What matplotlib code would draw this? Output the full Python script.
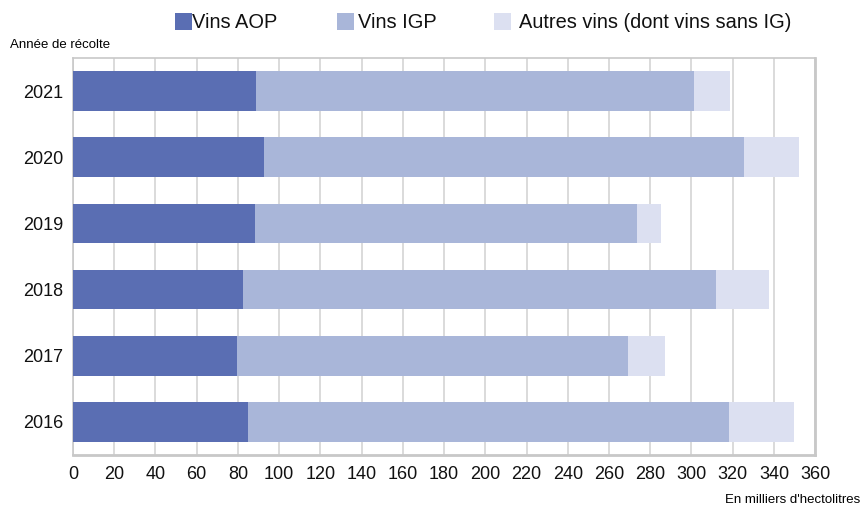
import matplotlib.pyplot as plt
from matplotlib.patches import Rectangle

years = ["2016", "2017", "2018", "2019", "2020", "2021"]
aop = [84.7, 79.7, 82.6, 88.4, 92.8, 88.9]
igp = [233.6, 189.3, 229.4, 185.0, 232.8, 212.4]
autres = [31.6, 18.2, 25.5, 11.8, 26.5, 17.5]

labels = ["Vins AOP", "Vins IGP", "Autres vins (dont vins sans IG)"]
colors = ["#5a6eb3", "#a9b6d9", "#dce0f1"]

plt.rcParams["font.family"] = ["Liberation Sans", "DejaVu Sans"]

W, H = 867, 509
fig = plt.figure(figsize=(W / 100, H / 100), dpi=100)
ax = fig.add_axes([0.0842, 0.106, 0.856, 0.780])

pos = range(len(years))
left3 = [a + b for a, b in zip(aop, igp)]
ax.barh(pos, aop, height=0.6, color=colors[0], zorder=3)
ax.barh(pos, igp, left=aop, height=0.6, color=colors[1], zorder=3)
ax.barh(pos, autres, left=left3, height=0.6, color=colors[2], zorder=3)

ax.set_xlim(0, 360)
ax.set_ylim(-0.5, 5.5)
ax.set_xticks(range(0, 361, 20))
ax.set_yticks(list(pos))
ax.set_yticklabels(years)
ax.tick_params(axis="both", length=0, labelsize=13, colors="#111111")
ax.tick_params(axis="x", pad=8)
ax.tick_params(axis="y", pad=7)
ax.xaxis.grid(True, color="#d4d4d4", linewidth=1.2, zorder=0)

for s in ax.spines.values():
    s.set_color("#c8c8c8")
    s.set_linewidth(1.2)
ax.spines["right"].set_linewidth(2)
ax.spines["bottom"].set_linewidth(2)

# legend drawn by hand: square + label, positions in pixels
sq_x = [175, 337, 494]
txt_x = [192, 358, 519]
for c, lab, sx, tx in zip(colors, labels, sq_x, txt_x):
    fig.add_artist(Rectangle((sx / W, 1 - 30 / H), 16.5 / W, 17 / H,
                             transform=fig.transFigure, facecolor=c, edgecolor="none"))
    fig.text(tx / W, 1 - 22 / H, lab, fontsize=14.4, va="center", ha="left", color="#111111")

fig.text(10 / W, 1 - 45 / H, "Année de récolte", fontsize=9.5, va="center", ha="left")
fig.text(860 / W, 1 - 500 / H, "En milliers d'hectolitres", fontsize=9.5, va="center", ha="right")

fig.savefig("out.png", dpi=100)
